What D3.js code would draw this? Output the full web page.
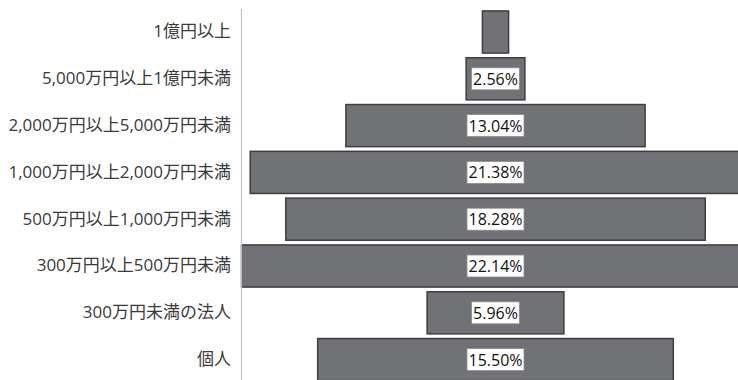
<!DOCTYPE html>
<html>
<head>
<meta charset="utf-8">
<script src="https://cdn.jsdelivr.net/npm/d3@7.9.0/dist/d3.min.js"></script>
<style>
  html, body { margin: 0; padding: 0; background: #fff; }
  svg { display: block; font-family: "Noto Sans CJK JP", "Noto Sans", sans-serif; }
</style>
</head>
<body>
<div id="chart"></div>
<script>
const categories = [
  "1億円以上",
  "5,000万円以上1億円未満",
  "2,000万円以上5,000万円未満",
  "1,000万円以上2,000万円未満",
  "500万円以上1,000万円未満",
  "300万円以上500万円未満",
  "300万円未満の法人",
  "個人",
];
const shares = [1.14, 2.56, 13.04, 21.38, 18.28, 22.14, 5.96, 15.5];
const showLabel = [false, true, true, true, true, true, true, true];

const width = 738;
const height = 380;
const center = 495.5;
const halfSpan = 254;

const svg = d3
  .select("#chart")
  .append("svg")
  .attr("width", width)
  .attr("height", height);

const maxShare = d3.max(shares);
const xScale = d3
  .scaleLinear()
  .domain([-maxShare / 2, maxShare / 2])
  .range([center - halfSpan, center + halfSpan]);

const yScale = d3
  .scaleBand()
  .domain(categories)
  .range([8.6, 383])
  .paddingInner(0.1)
  .paddingOuter(0.05);

// bars, centred like a funnel
const bars = svg.append("g").attr("class", "bars");
bars
  .selectAll("rect")
  .data(categories)
  .join("rect")
  .attr("x", (d, i) => xScale(-shares[i] / 2))
  .attr("y", (d) => yScale(d))
  .attr("width", (d, i) => xScale(shares[i] / 2) - xScale(-shares[i] / 2))
  .attr("height", yScale.bandwidth())
  .attr("fill", "#717276")
  .attr("stroke", "#3e3e40")
  .attr("stroke-width", 1.5);

// value labels in white boxes
const labels = svg.append("g").attr("class", "labels");
categories.forEach((cat, i) => {
  if (!showLabel[i]) return;
  const g = labels.append("g");
  const cy = yScale(cat) + yScale.bandwidth() / 2;
  const text = g
    .append("text")
    .attr("x", xScale(0))
    .attr("y", cy)
    .attr("text-anchor", "middle")
    .attr("dominant-baseline", "central")
    .attr("font-size", 16)
    .attr("font-family", "'Open Sans', 'Noto Sans', sans-serif")
    .attr("fill", "#111")
    .text(shares[i].toFixed(2) + "%");
  const box = text.node().getBBox();
  g.insert("rect", "text")
    .attr("x", box.x - 1.5)
    .attr("y", cy - 11)
    .attr("width", box.width + 3)
    .attr("height", 22)
    .attr("fill", "#fff")
    .attr("stroke", "#8a8a8a")
    .attr("stroke-width", 0.8);
});

// category axis
const yAxis = svg
  .append("g")
  .attr("transform", `translate(${center - halfSpan - 0.5}, 0)`)
  .call(d3.axisLeft(yScale).tickSize(0).tickPadding(10));

yAxis.select(".domain").attr("stroke", "#c4c4c4").attr("stroke-width", 1.2);
yAxis
  .selectAll(".tick text")
  .attr("font-size", 17)
  .attr("font-family", "'Open Sans', 'Noto Sans CJK JP', sans-serif")
  .attr("fill", "#3a3a3a");
</script>
</body>
</html>
